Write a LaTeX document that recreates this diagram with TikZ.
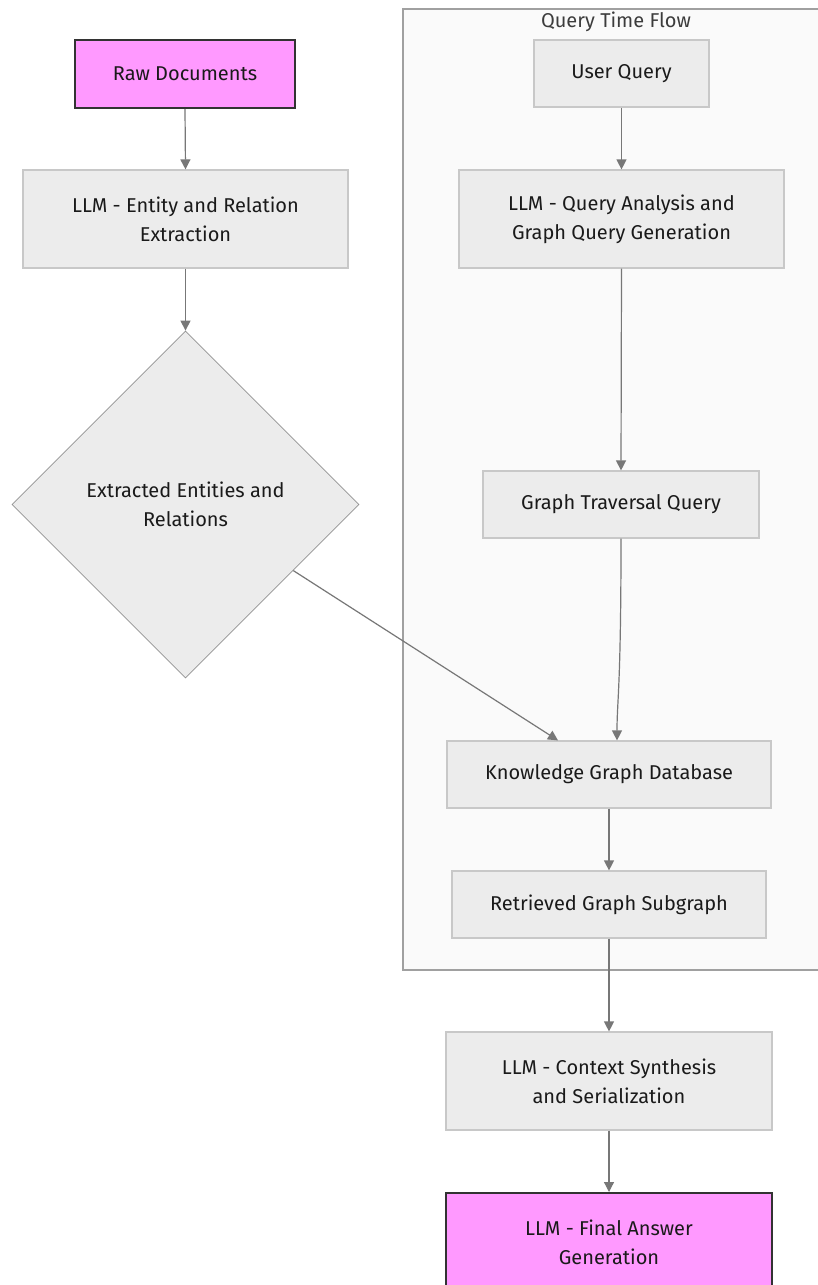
\documentclass[tikz,border=0pt]{standalone}
\usepackage{fontspec}
\setmainfont{Fira Sans}
\usetikzlibrary{shapes.geometric,arrows.meta,calc}
\definecolor{boxfill}{HTML}{ECECEC}
\definecolor{boxline}{HTML}{C8C8C8}
\definecolor{hotfill}{HTML}{FF99FF}
\definecolor{hotline}{HTML}{333333}
\definecolor{clusterfill}{HTML}{FAFAFA}
\definecolor{clusterline}{HTML}{A0A0A0}
\definecolor{edgecol}{HTML}{777777}
\definecolor{txt}{HTML}{1A1A1A}
\tikzset{
  x=1pt, y=-1pt,
  every node/.style={font=\fontsize{20}{29}\selectfont, text=txt, align=center, inner sep=0pt},
  procbox/.style={rectangle, fill=boxfill, draw=boxline, line width=1.2pt},
  hotbox/.style={rectangle, fill=hotfill, draw=hotline, line width=2pt},
  decision/.style={diamond, aspect=1, fill=boxfill, draw=edgecol!80, line width=0.8pt,
    minimum width=347pt, minimum height=347pt},
  flow/.style={draw=edgecol, line width=1.2pt, -{Triangle[length=10pt,width=10pt]}},
}
\begin{document}
\begin{tikzpicture}
\useasboundingbox (0,0) rectangle (817,1285);
\fill[white] (0,0) rectangle (817,1285);

% query-time cluster
\draw[fill=clusterfill, draw=clusterline, line width=1.2pt] (403,9) rectangle (840,970);
\node[text=txt!85] (qtitle) at (616,22) {Query Time Flow};

% indexing side
\node[hotbox, minimum width=220pt, minimum height=68pt] (raw) at (185,74) {Raw Documents};
\node[procbox, minimum width=325pt, minimum height=98pt] (extract) at (185.5,219) {LLM - Entity and Relation\\Extraction};
\node[decision] (ents) at (185.5,504.5) {Extracted Entities and\\Relations};
\coordinate (entsout) at ($(ents.east)!0.38!(ents.south)$);

% query side
\node[procbox, minimum width=175pt, minimum height=67pt] (uq) at (621.5,73.5) {User Query};
\node[procbox, minimum width=325pt, minimum height=98pt] (qa) at (621.5,219) {LLM - Query Analysis and\\Graph Query Generation};
\node[procbox, minimum width=276pt, minimum height=67pt] (gtq) at (621,504.5) {Graph Traversal Query};
\node[procbox, minimum width=324pt, minimum height=67pt] (kgd) at (609,774.5) {Knowledge Graph Database};
\node[procbox, minimum width=314pt, minimum height=67pt] (rgs) at (609,904.5) {Retrieved Graph Subgraph};

% answer side
\node[procbox, minimum width=326pt, minimum height=98pt] (ctx) at (609,1081) {LLM - Context Synthesis\\and Serialization};
\node[hotbox, minimum width=326pt, minimum height=98pt] (final) at (609,1242) {LLM - Final Answer\\Generation};

% connectors
\draw[flow] (raw.south) -- (extract.north);
\draw[flow] (extract.south) -- (ents.north);
\draw[flow] (uq.south) -- (qa.north);
\draw[flow] (qa.south) -- (gtq.north);
\draw[flow] (gtq.south) .. controls ($(gtq.south)+(0,150)$) and ($([xshift=8pt]kgd.north)+(0,-40)$) .. ([xshift=8pt]kgd.north);
\draw[flow] (entsout) -- ([xshift=-51pt]kgd.north);
\draw[flow] (kgd.south) -- (rgs.north);
\draw[flow] (rgs.south) -- (ctx.north);
\draw[flow] (ctx.south) -- (final.north);
\end{tikzpicture}
\end{document}
